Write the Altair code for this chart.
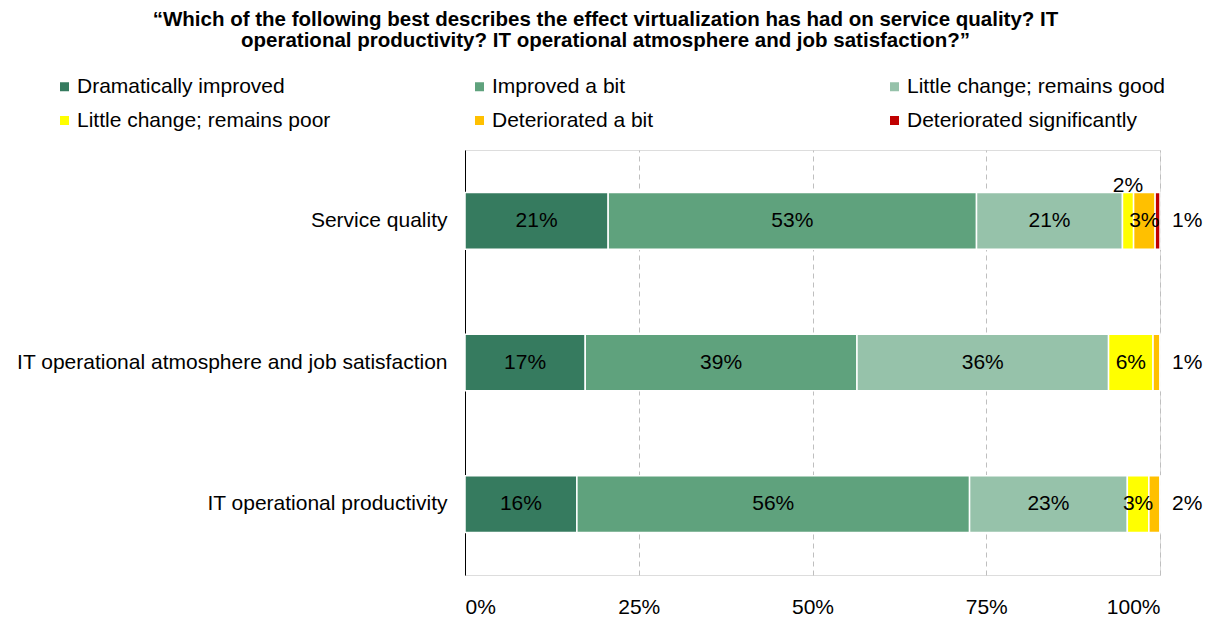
import altair as alt
import pandas as pd

categories = [
    "Service quality",
    "IT operational atmosphere and job satisfaction",
    "IT operational productivity",
]
segments = [
    "Dramatically improved",
    "Improved a bit",
    "Little change; remains good",
    "Little change; remains poor",
    "Deteriorated a bit",
    "Deteriorated significantly",
]
colors = ["#367B5F", "#5FA27D", "#96C2AA", "#FFFF00", "#FFC000", "#C00000"]

values = {
    "Service quality": [20.6, 53.0, 21.0, 1.6, 3.1, 0.7],
    "IT operational atmosphere and job satisfaction": [17.3, 39.1, 36.2, 6.4, 1.0, 0.0],
    "IT operational productivity": [16.1, 56.5, 22.7, 3.1, 1.6, 0.0],
}
labels = {
    "Service quality": ["21%", "53%", "21%", "2%", "3%", "1%"],
    "IT operational atmosphere and job satisfaction": ["17%", "39%", "36%", "6%", "1%", ""],
    "IT operational productivity": ["16%", "56%", "23%", "3%", "2%", ""],
}
placement = {
    "Service quality": ["in", "in", "in", "above", "in", "right"],
    "IT operational atmosphere and job satisfaction": ["in", "in", "in", "in", "right", "none"],
    "IT operational productivity": ["in", "in", "in", "in", "right", "none"],
}

rows = []
for c in categories:
    start = 0.0
    for i, s in enumerate(segments):
        v = values[c][i]
        rows.append(dict(category=c, segment=s, order=i, start=start, end=start + v,
                         mid=start + v / 2, label=labels[c][i], place=placement[c][i]))
        start += v
df = pd.DataFrame(rows)

FONT = "Liberation Sans"
FS = 21

y_enc = alt.Y("category:N", sort=categories, title=None,
              scale=alt.Scale(paddingInner=0.6, paddingOuter=0.3),
              axis=alt.Axis(domain=True, domainColor="#000000", domainWidth=1, ticks=False,
                            labelPadding=18, labelFontSize=FS, labelColor="#000000",
                            labelFont=FONT, labelLimit=600, grid=False))

x_scale = alt.Scale(domain=[0, 100], nice=False)

bars = alt.Chart(df).mark_bar(stroke="white", strokeWidth=1.5).encode(
    x=alt.X("start:Q", scale=x_scale, title=None,
            axis=alt.Axis(values=[0, 25, 50, 75, 100], labelExpr="datum.value + '%'",
                          domain=False, ticks=False, grid=True, gridDash=[5, 4],
                          gridColor="#BFBFBF", gridWidth=1, labelPadding=21,
                          labelFontSize=FS, labelColor="#000000", labelFont=FONT)),
    x2="end:Q",
    y=y_enc,
    color=alt.Color("segment:N", sort=segments,
                    scale=alt.Scale(domain=segments, range=colors),
                    legend=alt.Legend(title=None, orient="none", legendX=-411, legendY=-74,
                                      direction="horizontal",
                                      columns=3, columnPadding=134, rowPadding=12,
                                      symbolType="square", symbolSize=81, symbolStrokeWidth=0,
                                      labelFontSize=FS, labelFont=FONT, labelColor="#000000",
                                      labelLimit=400, gridAlign="all", labelOffset=2)),
    order=alt.Order("order:Q"),
)

txt_in = alt.Chart(df).transform_filter("datum.place == 'in'").mark_text(
    fontSize=FS, font=FONT, color="#000000", align="center", baseline="middle"
).encode(x=alt.X("mid:Q", scale=x_scale), y=alt.Y("category:N", sort=categories), text="label:N")

txt_above = alt.Chart(df).transform_filter("datum.place == 'above'").mark_text(
    fontSize=FS, font=FONT, color="#000000", align="center", baseline="middle", dy=-35
).encode(x=alt.X("mid:Q", scale=x_scale), y=alt.Y("category:N", sort=categories), text="label:N")

txt_right = alt.Chart(df).transform_filter("datum.place == 'right'").transform_calculate(
    full="100"
).mark_text(
    fontSize=FS, font=FONT, color="#000000", align="left", baseline="middle", dx=12
).encode(x=alt.X("full:Q", scale=x_scale), y=alt.Y("category:N", sort=categories), text="label:N")

chart = alt.layer(bars, txt_in, txt_above, txt_right).properties(
    width=695, height=425,
    autosize=alt.AutoSizeParams(type="none"),
    padding={"left": 465, "top": 150, "right": 47, "bottom": 46},
    title=alt.TitleParams(
        text=["\u201cWhich of the following best describes the effect virtualization has had on service quality? IT",
              "operational productivity? IT operational atmosphere and job satisfaction?\u201d"],
        fontSize=20.5, fontWeight="bold", font=FONT, color="#000000", anchor="middle",
        frame="group", dx=-207, lineHeight=21, offset=25),
).configure_view(stroke=None).configure(background="white")

chart.save("out.html", embed_options={"renderer": "svg", "actions": False})
